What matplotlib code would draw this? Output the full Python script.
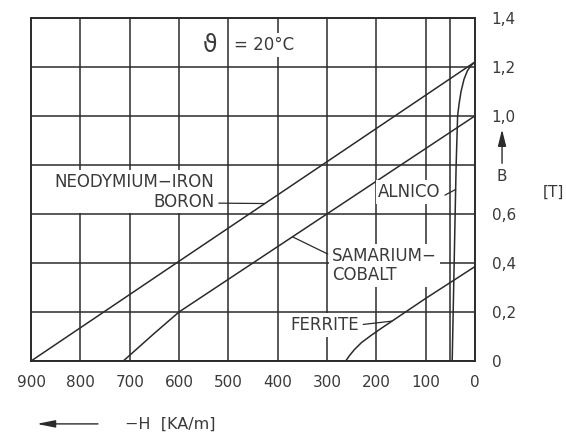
import numpy as np
import matplotlib.pyplot as plt

# demagnetisation curves, -H in kA/m, B in T
ndfeb_h = [900, 600, 300, 0]
ndfeb_b = [0.0, 0.407, 0.813, 1.22]

smco_h = [713, 650, 600, 300, 0]
smco_b = [0.0, 0.113, 0.2, 0.6, 1.0]

ferrite_h = [262, 255, 245, 230, 210, 190, 170, 100, 0]
ferrite_b = [0.0, 0.02, 0.045, 0.075, 0.105, 0.133, 0.16, 0.255, 0.385]

alnico_h = [46, 44, 42, 40, 38, 35, 32, 28, 22, 15, 8, 0]
alnico_b = [0.0, 0.2, 0.4, 0.6, 0.8, 1.0, 1.05, 1.1, 1.15, 1.185, 1.205, 1.22]

h_ticks = [900, 800, 700, 600, 500, 400, 300, 200, 100, 0]
b_ticks = [0, 0.2, 0.4, 0.6, 0.8, 1.0, 1.2, 1.4]
b_labels = ['0', '0,2', '0,4', '0,6', '', '1,0', '1,2', '1,4']

ink = '#2b2b2b'
txt = '#3a3a3a'

fig = plt.figure(figsize=(5.66, 4.37), dpi=100)
ax = fig.add_axes([0.055, 0.174, 0.784, 0.785])

for h, b in [(ndfeb_h, ndfeb_b), (smco_h, smco_b), (ferrite_h, ferrite_b), (alnico_h, alnico_b)]:
    ax.plot(h, b, color=ink, lw=1.1, zorder=2)

ax.set_xlim(900, 0)
ax.set_ylim(0, 1.4)
ax.set_xticks(h_ticks)
ax.set_xticks([50], minor=True)
ax.set_xticklabels([str(v) for v in h_ticks])
ax.set_yticks(b_ticks)
ax.set_yticklabels(b_labels)
ax.yaxis.tick_right()
ax.tick_params(axis='both', which='both', length=0, labelsize=11, labelcolor=txt)
ax.tick_params(axis='x', pad=10)
ax.tick_params(axis='y', pad=12)
ax.grid(True, which='both', color=ink, lw=1.1, zorder=1)
for s in ax.spines.values():
    s.set_color(ink)
    s.set_linewidth(1.4)

box = dict(facecolor='white', edgecolor='none', pad=2)
lead = dict(arrowstyle='-', color=ink, lw=0.9, shrinkA=1, shrinkB=0)

ax.text(537, 1.29, 'ϑ', ha='center', va='center', fontsize=17, color=txt, bbox=box, zorder=3)
ax.text(428, 1.29, '= 20°C', ha='center', va='center', fontsize=12, color=txt, bbox=box, zorder=3)

ax.annotate('NEODYMIUM−IRON\nBORON', xy=(426, np.interp(426, ndfeb_h[::-1], ndfeb_b[::-1])),
            xytext=(528, 0.69), ha='right', va='center', multialignment='right',
            fontsize=12, color=txt, bbox=box, zorder=3, linespacing=1.1,
            arrowprops=dict(lead, relpos=(1.0, 0.2)))

ax.annotate('ALNICO', xy=(39, np.interp(39, alnico_h[::-1], alnico_b[::-1])),
            xytext=(69, 0.69), ha='right', va='center',
            fontsize=12, color=txt, bbox=box, zorder=3,
            arrowprops=dict(lead, relpos=(1.0, 0.2)))

ax.annotate('SAMARIUM−\nCOBALT', xy=(370, np.interp(370, smco_h[::-1], smco_b[::-1])),
            xytext=(290, 0.39), ha='left', va='center', multialignment='left',
            fontsize=12, color=txt, bbox=box, zorder=3, linespacing=1.1,
            arrowprops=dict(lead, relpos=(0.0, 0.75)))

ax.annotate('FERRITE', xy=(168, np.interp(168, ferrite_h[::-1], ferrite_b[::-1])),
            xytext=(235, 0.147), ha='right', va='center',
            fontsize=12, color=txt, bbox=box, zorder=3,
            arrowprops=dict(lead, relpos=(1.0, 0.5)))

# B axis marker with arrow
fig.text(0.887, 0.595, 'B', ha='center', va='center', fontsize=11, color=txt)
ax.annotate('', xy=(0.887, 0.71), xytext=(0.887, 0.62), xycoords='figure fraction',
            arrowprops=dict(arrowstyle='-|>,head_width=0.25,head_length=1.0', color=ink, lw=1.0))
fig.text(0.977, 0.561, '[T]', ha='center', va='center', fontsize=11, color=txt)

# -H direction marker
ax.annotate('', xy=(0.06, 0.03), xytext=(0.178, 0.03), xycoords='figure fraction',
            arrowprops=dict(arrowstyle='-|>,head_width=0.22,head_length=1.1', color=ink, lw=1.0))
fig.text(0.221, 0.03, '−H  [KA/m]', ha='left', va='center', fontsize=11.5, color=txt)

fig.savefig('out.png', dpi=100, facecolor='white')
